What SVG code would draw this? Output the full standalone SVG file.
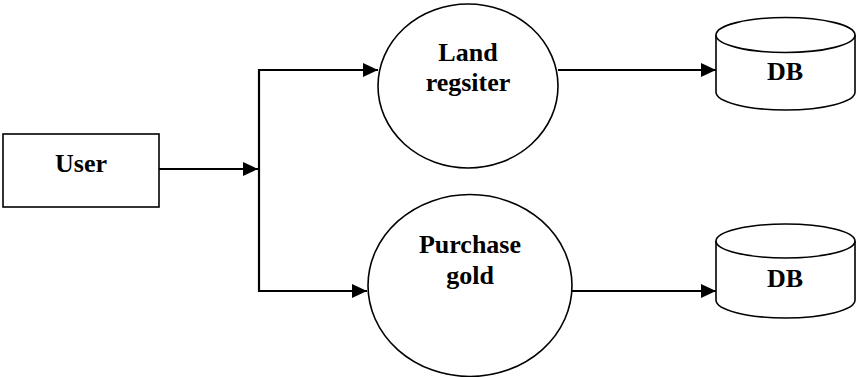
<svg xmlns="http://www.w3.org/2000/svg" width="856" height="377" viewBox="0 0 856 377">
  <style>
    .shape { fill: #fff; stroke: #000; stroke-width: 1.6; }
    .wire { fill: none; stroke: #000; stroke-width: 2.2; }
    .label { font-family: "Liberation Serif", "Times New Roman", serif; font-weight: bold; font-size: 26px; fill: #000; text-anchor: middle; }
  </style>
  <defs>
    <marker id="arrow" markerWidth="15" markerHeight="14" refX="15" refY="7" orient="auto" markerUnits="userSpaceOnUse">
      <path d="M0,0 L15,7 L0,14 Z" fill="#000"/>
    </marker>
  </defs>
  <rect width="856" height="377" fill="#fff"/>

  <g id="connectors">
    <line class="wire" x1="159" y1="169" x2="258" y2="169" marker-end="url(#arrow)"/>
    <line class="wire" x1="259" y1="69" x2="259" y2="292"/>
    <line class="wire" x1="258" y1="70" x2="378" y2="70" marker-end="url(#arrow)"/>
    <line class="wire" x1="258" y1="291" x2="367" y2="291" marker-end="url(#arrow)"/>
    <line class="wire" x1="558" y1="70" x2="716" y2="70" marker-end="url(#arrow)"/>
    <line class="wire" x1="572" y1="291" x2="716" y2="291" marker-end="url(#arrow)"/>
  </g>

  <g id="user">
    <rect class="shape" x="3" y="134" width="156" height="73"/>
    <text class="label" x="81" y="172">User</text>
  </g>

  <g id="land-register">
    <ellipse class="shape" cx="468" cy="86" rx="90" ry="82"/>
    <text class="label" x="468" y="61">Land</text>
    <text class="label" x="468" y="91">regsiter</text>
  </g>

  <g id="purchase-gold">
    <ellipse class="shape" cx="470" cy="285.5" rx="102" ry="91"/>
    <text class="label" x="470" y="253">Purchase</text>
    <text class="label" x="470" y="284">gold</text>
  </g>

  <g id="db-top">
    <path class="shape" d="M716,35 L716,92 A69.5,18 0 0 0 855,92 L855,35"/>
    <ellipse class="shape" cx="785.5" cy="35" rx="69.5" ry="17.5"/>
    <text class="label" x="785" y="80">DB</text>
  </g>

  <g id="db-bottom">
    <path class="shape" d="M716,241 L716,300 A69.5,18 0 0 0 855,300 L855,241"/>
    <ellipse class="shape" cx="785.5" cy="241" rx="69.5" ry="17"/>
    <text class="label" x="785" y="287">DB</text>
  </g>
</svg>
